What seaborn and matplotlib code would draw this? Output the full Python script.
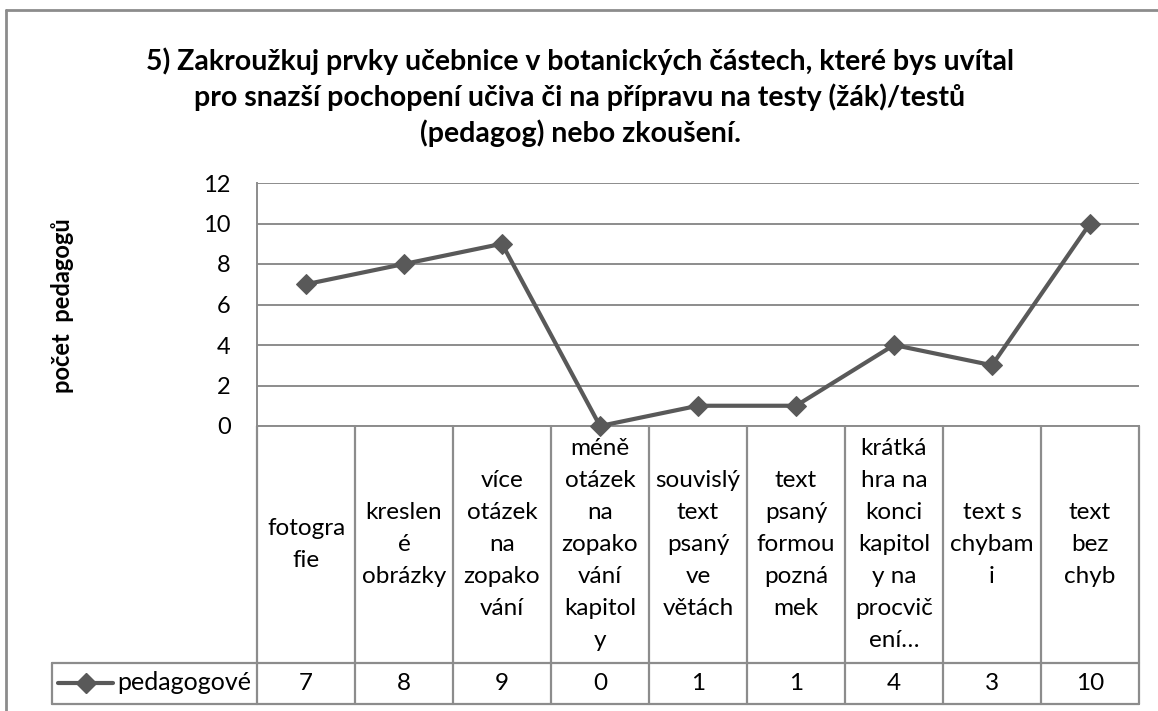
import numpy as np
import pandas as pd
import matplotlib.pyplot as plt
import seaborn as sns
from matplotlib.lines import Line2D
from matplotlib.transforms import blended_transform_factory

# Data
title = ("5) Zakroužkuj prvky učebnice v botanických částech, které bys uvítal\n"
         "pro snazší pochopení učiva či na přípravu na testy (žák)/testů\n"
         "(pedagog) nebo zkoušení.")
y_label = "počet  pedagogů"
series_name = "pedagogové"
categories = [
    "fotogra\nfie",
    "kreslen\né\nobrázky",
    "více\notázek\nna\nzopako\nvání",
    "méně\notázek\nna\nzopako\nvání\nkapitol\ny",
    "souvislý\ntext\npsaný\nve\nvětách",
    "text\npsaný\nformou\npozná\nmek",
    "krátká\nhra na\nkonci\nkapitol\ny na\nprocvič\není…",
    "text s\nchybam\ni",
    "text\nbez\nchyb",
]
pedagogove = [7, 8, 9, 0, 1, 1, 4, 3, 10]
y_ticks = [0, 2, 4, 6, 8, 10, 12]

line_col = "#595959"
grid_col = "#8c8c8c"
text_col = "#000000"

sns.set_theme(style="white")
plt.rcParams['font.family'] = ['Lato', 'DejaVu Sans']

W, H = 1158, 711
fig = plt.figure(figsize=(W / 100, H / 100), dpi=100)


def fx(px):
    return px / W


def fy(py):
    return 1 - py / H


n = len(categories)
ax = fig.add_axes([fx(257), fy(426), fx(1139) - fx(257), fy(183) - fy(426)])
df = pd.DataFrame({"pos": np.arange(n), "value": pedagogove})
sns.lineplot(data=df, x="pos", y="value", ax=ax, color=line_col, lw=3,
             marker="D", markersize=10, markeredgecolor=line_col,
             zorder=3, clip_on=False)
ax.set_xlim(-0.5, n - 0.5)
ax.set_ylim(0, 12)
ax.set_yticks(y_ticks)
ax.set_xticks([])
ax.set_xlabel("")
ax.set_ylabel("")
ax.yaxis.grid(True, color=grid_col, lw=1.4)
ax.set_axisbelow(True)
for s in ["top", "right"]:
    ax.spines[s].set_visible(False)
for s in ["left", "bottom"]:
    ax.spines[s].set_color(grid_col)
    ax.spines[s].set_linewidth(1.4)
ax.tick_params(axis="y", length=0, labelsize=17, pad=19, labelcolor=text_col)

# data table below the plot
tr = blended_transform_factory(ax.transData, fig.transFigure)
y_top, y_mid, y_bot = fy(426), fy(663), fy(704)
tbl = dict(color=grid_col, lw=1.6, clip_on=False)
for k in range(n + 1):
    fig.add_artist(Line2D([k - 0.5, k - 0.5], [y_top, y_bot], transform=tr, **tbl))
for yy in (y_mid, y_bot):
    fig.add_artist(Line2D([-0.5, n - 0.5], [yy, yy], transform=tr, **tbl))
    fig.add_artist(Line2D([fx(52), fx(257)], [yy, yy], transform=fig.transFigure, **tbl))
fig.add_artist(Line2D([fx(52), fx(52)], [y_mid, y_bot], transform=fig.transFigure, **tbl))

for k, (cat, val) in enumerate(zip(categories, pedagogove)):
    fig.text(k, (y_top + y_mid) / 2, cat, transform=tr, ha="center", va="center",
             fontsize=17.5, linespacing=1.65, color=text_col)
    fig.text(k, (y_mid + y_bot) / 2, str(val), transform=tr, ha="center", va="center",
             fontsize=17.5, color=text_col)

# legend key inside the table
fig.add_artist(Line2D([fx(58), fx(113)], [fy(683), fy(683)], transform=fig.transFigure,
                      color=line_col, lw=3))
fig.add_artist(Line2D([fx(85.5)], [fy(683)], transform=fig.transFigure, marker="D",
                      markersize=10, color=line_col))
fig.text(fx(117), fy(683), series_name, ha="left", va="center", fontsize=18, color=text_col)

# title and axis label
fig.text(fx(580), fy(97), title, ha="center", va="center", fontsize=20.5,
         fontweight="bold", linespacing=1.38, color=text_col)
fig.text(fx(62), fy(306), y_label, ha="center", va="center", rotation=90,
         fontsize=17, fontweight="bold", color=text_col)

# chart area frame (left and top edges visible)
frame = dict(color="#8c8c8c", lw=2, transform=fig.transFigure)
fig.add_artist(Line2D([fx(6), fx(6)], [fy(10), 0], **frame))
fig.add_artist(Line2D([fx(6), 1], [fy(10), fy(10)], **frame))

fig.savefig("out.png", dpi=100, facecolor="white")
